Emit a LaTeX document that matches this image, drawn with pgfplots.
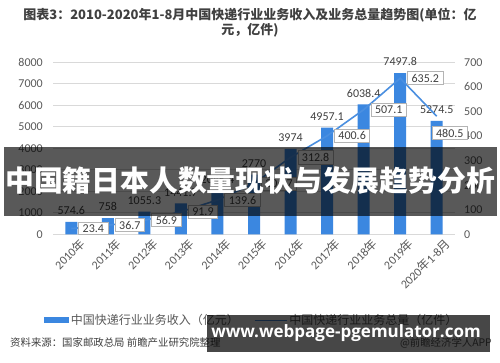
\documentclass[border=0pt]{standalone}
\usepackage{pgfplots}
\pgfplotsset{compat=1.18}
\usepackage{pgfplotstable}
\usepackage{fontspec}
\setmainfont{Noto Sans CJK SC}
\newfontfamily\numfont{Carlito}
\newfontfamily\webfont{Open Sans}
\definecolor{barblue}{HTML}{3B87E0}
\definecolor{lineblue}{HTML}{4A8FE0}
\definecolor{tickgray}{HTML}{595959}
\definecolor{labgray}{HTML}{404040}
\definecolor{gridgray}{HTML}{D9D9D9}
\definecolor{boxgray}{HTML}{B4B4B4}
\newcommand{\fs}[1]{\fontsize{#1}{#1}\selectfont}
\newcommand{\Y}[1]{{\numfont #1}年}

\pgfplotsset{
  /pgf/number format/assume math mode=true,
  /pgf/number format/1000 sep={},
  barleg/.style={legend image code/.code={\fill[barblue] (0pt,-3pt) rectangle (25pt,3pt);}},
  lineleg/.style={legend image code/.code={\draw[lineblue, line width=1.6pt] (0pt,0pt) -- (32pt,0pt);}},
}

\pgfplotstableread{
x rev
0 574.6
1 758
2 1055.3
3 1441.7
4 2045.4
5 2770
6 3974
7 4957.1
8 6038.4
9 7497.8
10 5274.5
}\revtable

\pgfplotstableread{
x vol dx dy
0 23.4 7 0
1 36.7 7 0
2 56.9 7 0
3 91.9 7 0
4 139.6 7 0
5 206.7 7 0
6 312.8 7 0
7 400.6 7 0
8 507.1 7 0
9 635.2 7 0
10 480.5 -5 -17
}\voltable

\begin{document}
\begin{tikzpicture}[x=1pt,y=1pt]
\useasboundingbox (0,0) rectangle (500,362);
\fill[white] (0,0) rectangle (500,362);
\node[align=center, font=\bfseries\fontsize{13}{15}\selectfont, text=labgray] at (250,339.5)
  {图表3：2010-2020年1-8月中国快递行业业务收入及业务总量趋势图(单位：亿\\元，亿件)};

\begin{axis}[
  at={(53pt,127.7pt)}, anchor=south west, scale only axis,
  width=402pt, height=172pt,
  xmin=-0.5, xmax=10.5, ymin=0, ymax=8000,
  ytick={0,1000,...,8000}, scaled y ticks=false,
  ymajorgrids, grid style={gridgray, line width=0.8pt},
  axis line style={draw=none}, tick style={draw=none},
  xtick={0,...,10},
  xticklabels={\Y{2010},\Y{2011},\Y{2012},\Y{2013},\Y{2014},\Y{2015},\Y{2016},\Y{2017},\Y{2018},\Y{2019},{\Y{2020}{\numfont 1-8}月}},
  xticklabel style={font=\fs{12}, text=tickgray, rotate=45, anchor=north east, inner sep=0pt, yshift=-7pt, xshift=3pt},
  yticklabel style={font=\numfont\fs{12}, text=tickgray, anchor=east, inner sep=0pt, xshift=-10pt},
  clip=false,
  legend style={at={(0.494,-0.5)}, anchor=center, draw=none, fill=none, legend columns=2,
    font=\fs{12}, text=tickgray, /tikz/every even column/.append style={column sep=13pt}},
]
\addplot[ybar, bar width=12pt, fill=barblue, draw=none, barleg,
  nodes near coords,
  every node near coord/.append style={font=\numfont\fs{12}, text=labgray, inner sep=1pt, yshift=6pt}]
  table[x=x, y=rev] {\revtable};
\addlegendentry{中国快递行业业务收入（亿元）}
\addlegendimage{lineleg}
\addlegendentry{中国快递行业业务总量（亿件）}
\end{axis}

\begin{axis}[
  at={(53pt,127.7pt)}, anchor=south west, scale only axis,
  width=402pt, height=172pt,
  xmin=-0.5, xmax=10.5, ymin=0, ymax=700,
  hide x axis, axis y line*=right,
  axis line style={draw=none}, tick style={draw=none},
  ytick={0,100,...,700},
  yticklabel style={font=\numfont\fs{12}, text=tickgray, anchor=west, inner sep=0pt, xshift=9pt},
  clip=false,
]
\addplot[lineblue, line width=1.6pt, mark=none,
  nodes near coords,
  visualization depends on={\thisrow{dx} \as \dx},
  visualization depends on={\thisrow{dy} \as \dy},
  every node near coord/.append style={anchor=west, xshift=\dx pt, yshift=\dy pt,
    fill=white, draw=boxgray, line width=0.8pt, inner xsep=4pt, inner ysep=2.4pt,
    font=\numfont\fs{12}, text=labgray}]
  table[x=x, y=vol] {\voltable};
\end{axis}

\fill[black, opacity=0.65] (4,146) rectangle (497,215);
\node[text=white, font=\bfseries\fs{28.8}, inner sep=0pt] at (250,181) {中国籍日本人数量现状与发展趋势分析};

\node[anchor=west, font=\fs{10.4}, text=labgray, inner sep=0pt] at (10,19) {资料来源：国家邮政总局 前瞻产业研究院整理};
\node[anchor=east, font=\fs{10.4}, text=tickgray, inner sep=0pt] at (492,19) {@前瞻经济学人APP};

\fill[black, opacity=0.72] (207,10) rectangle (490,47);
\node[text=white, font=\webfont\bfseries\fs{17}, inner sep=0pt] at (346,29) {www.webpage-pgemulator.com};
\end{tikzpicture}
\end{document}
